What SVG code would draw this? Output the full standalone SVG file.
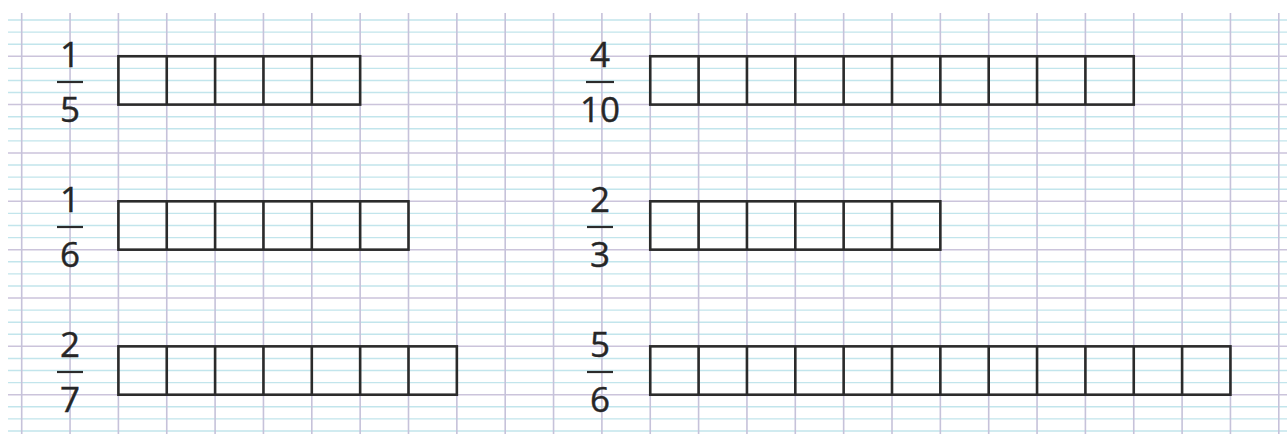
<svg xmlns="http://www.w3.org/2000/svg" width="1287" height="434" viewBox="0 0 1287 434">
<style>
.minor{stroke:#c2e5ec;stroke-width:1.4;fill:none}
.major{stroke:#cbc4db;stroke-width:1.5;fill:none}
.vert{stroke:#c6c2da;stroke-width:1.6;fill:none}
.box{stroke:#2b2b2b;stroke-width:2.6;fill:none}
.num{font-family:"Open Sans","Liberation Sans",sans-serif;font-size:35px;fill:#262626;stroke:#262626;stroke-width:0.4;text-anchor:middle}
.bar{stroke:#2b2b2b;stroke-width:2.2}
</style>
<rect width="1287" height="434" fill="#ffffff"/>
<g id="grid">
<path class="minor" d="M8 20H1287M8 32.09H1287M8 44.18H1287M8 68.35H1287M8 80.44H1287M8 92.53H1287M8 116.7H1287M8 128.79H1287M8 140.88H1287M8 165.05H1287M8 177.14H1287M8 189.23H1287M8 213.4H1287M8 225.49H1287M8 237.58H1287M8 261.75H1287M8 273.84H1287M8 285.93H1287M8 310.1H1287M8 322.19H1287M8 334.28H1287M8 358.45H1287M8 370.54H1287M8 382.63H1287M8 406.8H1287M8 418.89H1287M8 430.98H1287"/>
<path class="major" d="M8 56.26H1287M8 104.61H1287M8 152.96H1287M8 201.31H1287M8 249.66H1287M8 298.01H1287M8 346.36H1287M8 394.71H1287"/>
<path class="vert" d="M21.7 13V434M70.05 13V434M118.4 13V434M166.75 13V434M215.1 13V434M263.45 13V434M311.8 13V434M360.15 13V434M408.5 13V434M456.85 13V434M505.2 13V434M553.55 13V434M601.9 13V434M650.25 13V434M698.6 13V434M746.95 13V434M795.3 13V434M843.65 13V434M892 13V434M940.35 13V434M988.7 13V434M1037.05 13V434M1085.4 13V434M1133.75 13V434M1182.1 13V434M1230.45 13V434M1278.8 13V434"/>
</g>
<g id="node-1-5">
<text class="num" x="70" y="67">1</text>
<line class="bar" x1="57" y1="82" x2="83" y2="82"/>
<text class="num" x="70" y="122">5</text>
<rect class="box" x="118.4" y="56.26" width="241.75" height="48.35"/>
<path class="box" d="M166.75 56.26V104.61M215.1 56.26V104.61M263.45 56.26V104.61M311.8 56.26V104.61"/>
</g>
<g id="node-1-6">
<text class="num" x="70" y="212">1</text>
<line class="bar" x1="57" y1="227" x2="83" y2="227"/>
<text class="num" x="70" y="267">6</text>
<rect class="box" x="118.4" y="201.31" width="290.1" height="48.35"/>
<path class="box" d="M166.75 201.31V249.66M215.1 201.31V249.66M263.45 201.31V249.66M311.8 201.31V249.66M360.15 201.31V249.66"/>
</g>
<g id="node-2-7">
<text class="num" x="70" y="357">2</text>
<line class="bar" x1="57" y1="372" x2="83" y2="372"/>
<text class="num" x="70" y="412">7</text>
<rect class="box" x="118.4" y="346.36" width="338.45" height="48.35"/>
<path class="box" d="M166.75 346.36V394.71M215.1 346.36V394.71M263.45 346.36V394.71M311.8 346.36V394.71M360.15 346.36V394.71M408.5 346.36V394.71"/>
</g>
<g id="node-4-10">
<text class="num" x="600" y="67">4</text>
<line class="bar" x1="586" y1="82" x2="614" y2="82"/>
<text class="num" x="600" y="122">10</text>
<rect class="box" x="650.25" y="56.26" width="483.5" height="48.35"/>
<path class="box" d="M698.6 56.26V104.61M746.95 56.26V104.61M795.3 56.26V104.61M843.65 56.26V104.61M892 56.26V104.61M940.35 56.26V104.61M988.7 56.26V104.61M1037.05 56.26V104.61M1085.4 56.26V104.61"/>
</g>
<g id="node-2-3">
<text class="num" x="600" y="212">2</text>
<line class="bar" x1="587" y1="227" x2="613" y2="227"/>
<text class="num" x="600" y="267">3</text>
<rect class="box" x="650.25" y="201.31" width="290.1" height="48.35"/>
<path class="box" d="M698.6 201.31V249.66M746.95 201.31V249.66M795.3 201.31V249.66M843.65 201.31V249.66M892 201.31V249.66"/>
</g>
<g id="node-5-6">
<text class="num" x="600" y="357">5</text>
<line class="bar" x1="587" y1="372" x2="613" y2="372"/>
<text class="num" x="600" y="412">6</text>
<rect class="box" x="650.25" y="346.36" width="580.2" height="48.35"/>
<path class="box" d="M698.6 346.36V394.71M746.95 346.36V394.71M795.3 346.36V394.71M843.65 346.36V394.71M892 346.36V394.71M940.35 346.36V394.71M988.7 346.36V394.71M1037.05 346.36V394.71M1085.4 346.36V394.71M1133.75 346.36V394.71M1182.1 346.36V394.71"/>
</g>
<g id="connectors"></g>
</svg>
